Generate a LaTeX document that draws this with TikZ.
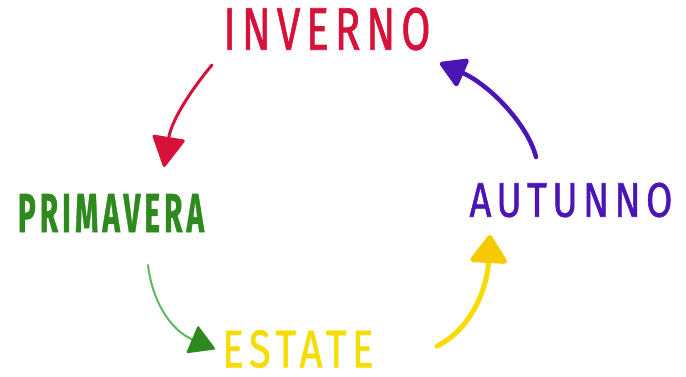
\documentclass[tikz,border=0pt]{standalone}
\usepackage{fontspec}
\usepackage{graphicx}
\usetikzlibrary{arrows.meta}
\newfontfamily\handfont[LetterSpace=14,FakeBold=1.2]{Fira Sans}
\definecolor{invred}{HTML}{D6123A}
\definecolor{autpurple}{HTML}{4B14B4}
\definecolor{primgreen}{HTML}{2E8A1F}
\definecolor{linegreen}{HTML}{5DB860}
\definecolor{estyellow}{HTML}{F7DC00}
\definecolor{headyellow}{HTML}{F5CB00}
\tikzset{
  season/.style={inner sep=0pt, outer sep=0pt, font=\handfont},
  cyclearrow/.style={line cap=round},
}
\begin{document}
\begin{tikzpicture}[x=1pt,y=-1pt]
\useasboundingbox (0,0) rectangle (686,376);
\fill[white] (0,0) rectangle (686,376);

\node[season,text=invred] (inv) at (327,29) {\resizebox{207pt}{42pt}{INVERNO}};
\node[season,text=primgreen] (prim) at (111,213) {\resizebox{186pt}{38pt}{\bfseries PRIMAVERA}};
\node[season,text=autpurple] (aut) at (571,200) {\resizebox{203pt}{34pt}{AUTUNNO}};
\node[season,text=estyellow] (est) at (298,349) {\resizebox{151pt}{37pt}{ESTATE}};

\coordinate (invout) at (212,65);
\coordinate (primin) at (164,167);
\coordinate (primout) at (148,265);
\coordinate (estin) at (215,349);
\coordinate (estout) at (437,346);
\coordinate (autin) at (490,235);
\coordinate (autout) at (536,157);
\coordinate (invin) at (440,63);

\draw[cyclearrow, invred, line width=3pt, -{Triangle[length=32pt,width=34pt,round]}]
  (invout) .. controls (195,85) and (172,118) .. (primin);
\draw[cyclearrow, linegreen, line width=2pt, -{Triangle[length=26pt,width=30pt,round,color=primgreen,fill=primgreen]}]
  (primout) .. controls (152,300) and (170,330) .. (estin);
\draw[cyclearrow, estyellow, line width=5pt, -{Triangle[length=30pt,width=40pt,round,color=headyellow,fill=headyellow]}]
  (estout) .. controls (470,330) and (487,290) .. (autin);
\draw[cyclearrow, autpurple, line width=4.5pt, -{Triangle[length=28pt,width=32pt,round]}]
  (autout) .. controls (528,125) and (490,85) .. (invin);
\end{tikzpicture}
\end{document}
